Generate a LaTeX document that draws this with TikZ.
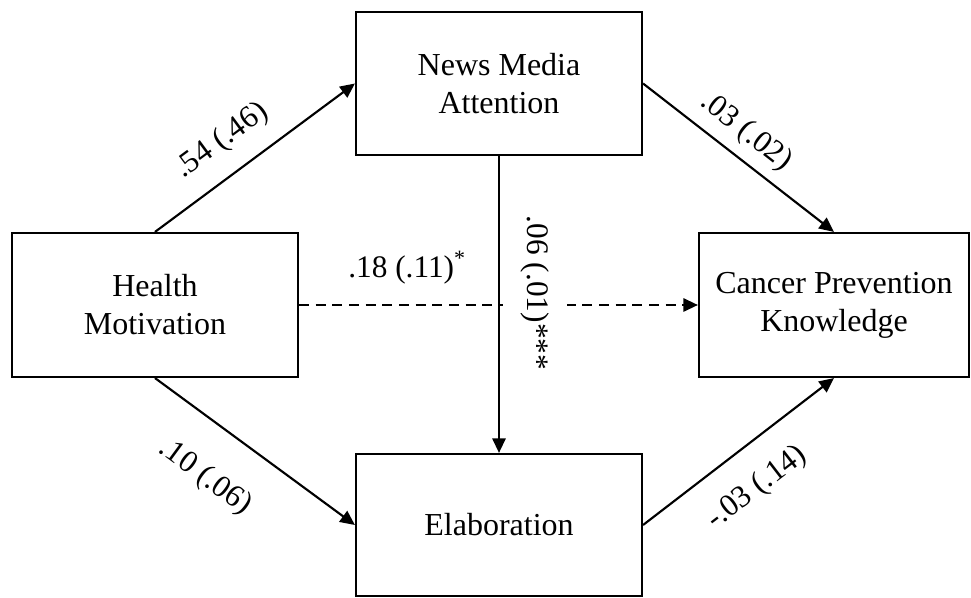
\documentclass[tikz,border=0pt]{standalone}
\usepackage{fontspec}
\setmainfont{Liberation Serif}
\usetikzlibrary{arrows.meta}
\begin{document}
\begin{tikzpicture}[x=0.75pt,y=-0.75pt,
  box/.style={draw,line width=1.6pt,align=center,inner sep=0pt,
    font=\fontsize{24}{28.5}\selectfont},
  conn/.style={line width=1.6pt,-{Triangle[length=11pt,width=10pt]}},
  lbl/.style={font=\fontsize{23.5}{27}\selectfont,inner sep=1pt}]
\useasboundingbox (0,0) rectangle (971,598);
\node[box,minimum width=214.5pt,minimum height=108pt] (hm) at (155,305) {Health\\Motivation};
\node[box,minimum width=214.5pt,minimum height=107.5pt] (nma) at (499,83.5) {News Media\\Attention};
\node[box,minimum width=202.5pt,minimum height=108pt] (cpk) at (834,305) {Cancer Prevention\\Knowledge};
\node[box,minimum width=214.5pt,minimum height=106.5pt] (el) at (499,525) {Elaboration};
\draw[conn] (hm.north) -- (nma.west);
\draw[conn] (nma.east) -- (cpk.north);
\draw[conn] (hm.south) -- (el.west);
\draw[conn] (el.east) -- (cpk.south);
\draw[conn,dashed,dash pattern=on 7.5pt off 5pt] (hm.east) -- (cpk.west);
\node[lbl,rotate=-90,fill=white,inner ysep=13pt,inner xsep=2pt] (l6) at (535,293) {.06 (.01)***};
\draw[conn] (nma.south) -- (el.north);
\node[lbl,rotate=36.4] (l1) at (222,141) {.54 (.46)};
\node[lbl,rotate=-38] (l2) at (746,132) {.03 (.02)};
\node[lbl,rotate=-36.4] (l3) at (205,477) {.10 (.06)};
\node[lbl,rotate=37.6] (l4) at (757,488) {-.03 (.14)};
\node[lbl] (l5) at (407,268) {.18 (.11)\textsuperscript{*}};
\end{tikzpicture}
\end{document}
